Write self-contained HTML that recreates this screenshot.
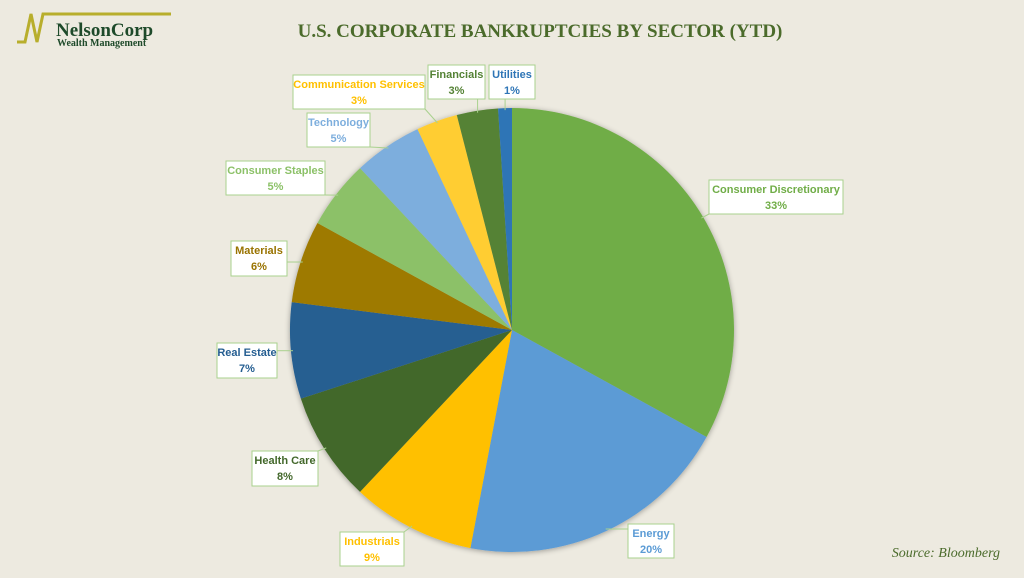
<!DOCTYPE html>
<html><head><meta charset="utf-8"><style>
html,body{margin:0;padding:0;background:#EDEAE0;}
#wrap{position:relative;width:1024px;height:578px;overflow:hidden;background:#EDEAE0;font-family:"Liberation Sans",sans-serif;}
</style></head><body>
<div id="wrap">
<svg id="chart" width="1024" height="578">
  <defs>
    <filter id="sh" x="-10%" y="-10%" width="120%" height="120%">
      <feGaussianBlur in="SourceAlpha" stdDeviation="3"/>
      <feOffset dx="0" dy="1"/>
      <feComponentTransfer><feFuncA type="linear" slope="0.35"/></feComponentTransfer>
      <feMerge><feMergeNode/><feMergeNode in="SourceGraphic"/></feMerge>
    </filter>
  </defs>
  <g>
    <polyline points="17,42 25,42 31,14 37,42 43,14 171,14" fill="none" stroke="#B8AE2C" stroke-width="3"/>
    <text x="56" y="36" font-family="Liberation Serif,serif" font-weight="bold" font-size="19" fill="#1E4A2A">NelsonCorp</text>
    <text x="57" y="46" font-family="Liberation Serif,serif" font-weight="bold" font-size="10" fill="#1E4A2A">Wealth Management</text>
  </g>
  <text x="540" y="37" text-anchor="middle" font-family="Liberation Serif,serif" font-weight="bold" font-size="19" fill="#4B6B2B">U.S. CORPORATE BANKRUPTCIES BY SECTOR (YTD)</text>
  <text x="1000" y="557" text-anchor="end" font-family="Liberation Serif,serif" font-style="italic" font-size="14" fill="#4B6B2B">Source: Bloomberg</text>
  <g id="pie" filter="url(#sh)"></g>
  <g id="labels"></g>
</svg>
</div>
<script>
const categories = ["Consumer Discretionary","Energy","Industrials","Health Care","Real Estate","Materials","Consumer Staples","Technology","Communication Services","Financials","Utilities"];
const values = [33,20,9,8,7,6,5,5,3,3,1];
const colors = ["#70AD47","#5B9BD5","#FFC000","#43682B","#255E91","#9E7A00","#8CC168","#7DAEDD","#FFCD33","#548235","#2E75B6"];
const textColors = ["#70AD47","#5B9BD5","#FFC000","#43682B","#255E91","#997300","#8CC168","#7DAEDD","#FFC000","#548235","#2E75B6"];
// label box layout [x, y, w, h]
const boxes = [[709,180,134,34],[628,524,46,34],[340,532,64,34],[252,451,66,35],[217,343,60,35],[231,241,56,35],[226,161,99,34],[307,113,63,34],[293,75,132,34],[428,65,57,34],[489,65,46,34]];
const cx=512, cy=330, r=222;
const NS="http://www.w3.org/2000/svg";
const pie=document.getElementById('pie'), lab=document.getElementById('labels');
const total=values.reduce((a,b)=>a+b,0);
function pt(a,rr){return [cx+rr*Math.sin(a), cy-rr*Math.cos(a)];}
let acc=0;
values.forEach((v,i)=>{
  const a0=acc/total*2*Math.PI; acc+=v; const a1=acc/total*2*Math.PI;
  const p0=pt(a0,r), p1=pt(a1,r);
  const path=document.createElementNS(NS,'path');
  path.setAttribute('d',`M${cx},${cy} L${p0[0]},${p0[1]} A${r},${r} 0 ${a1-a0>Math.PI?1:0} 1 ${p1[0]},${p1[1]} Z`);
  path.setAttribute('fill',colors[i]);
  
  
  pie.appendChild(path);
  // label
  const b=boxes[i]; const am=(a0+a1)/2; const anc=pt(am,r-2);
  const bx=Math.max(b[0],Math.min(b[0]+b[2],anc[0])), by=Math.max(b[1],Math.min(b[1]+b[3],anc[1]));
  const g=document.createElementNS(NS,'g');
  
  
  const ln=document.createElementNS(NS,'line');
  ln.setAttribute('x1',bx);ln.setAttribute('y1',by);ln.setAttribute('x2',anc[0]);ln.setAttribute('y2',anc[1]);
  ln.setAttribute('stroke','#A9D18E');ln.setAttribute('stroke-width','1');
  
  
  g.appendChild(ln);
  const rc=document.createElementNS(NS,'rect');
  rc.setAttribute('x',b[0]);rc.setAttribute('y',b[1]);rc.setAttribute('width',b[2]);rc.setAttribute('height',b[3]);
  rc.setAttribute('fill','#fff');rc.setAttribute('stroke','#A9D18E');rc.setAttribute('stroke-width','1');
  
  
  g.appendChild(rc);
  [categories[i], v+'%'].forEach((t,k)=>{
    const tx=document.createElementNS(NS,'text');
    tx.setAttribute('x',b[0]+b[2]/2);tx.setAttribute('y',b[1]+13+k*16);
    tx.setAttribute('text-anchor','middle');tx.setAttribute('font-size','11');tx.setAttribute('font-weight','bold');
    tx.setAttribute('fill',textColors[i]);
    
    
    tx.textContent=t; g.appendChild(tx);
  });
  lab.appendChild(g);
});
</script>
</body></html>
